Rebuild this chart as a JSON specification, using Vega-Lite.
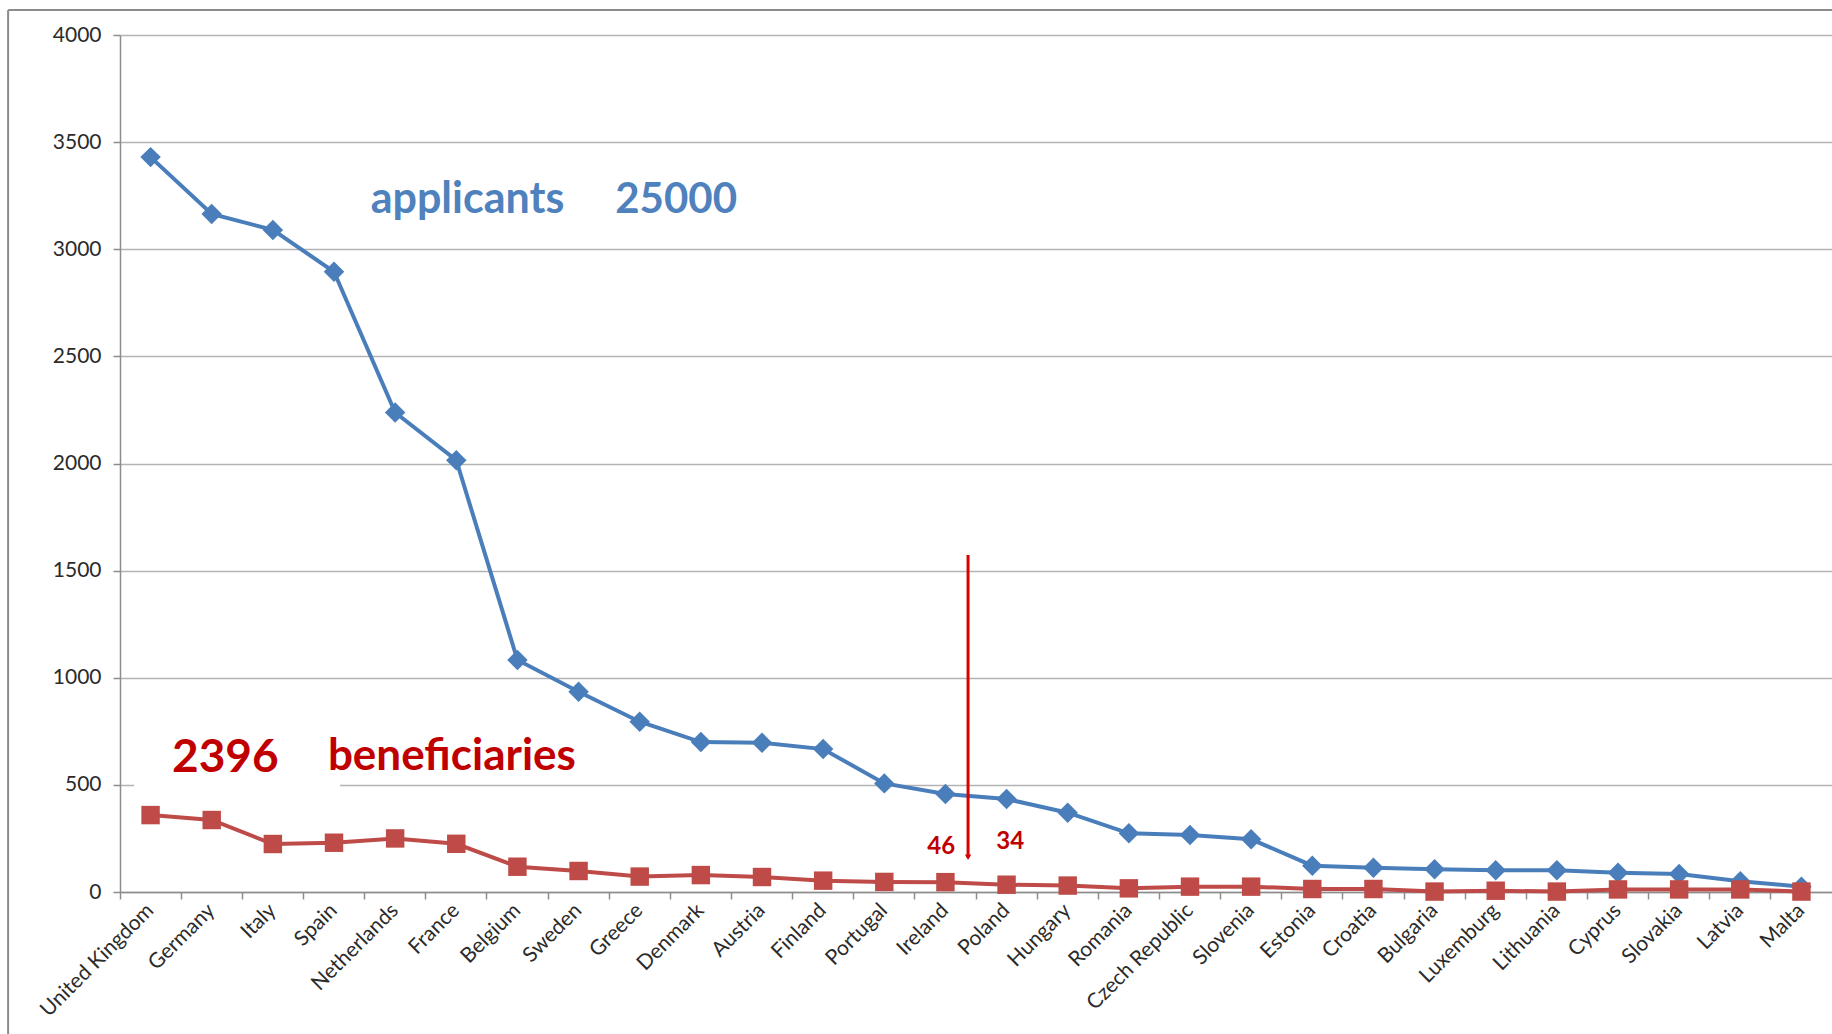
{
  "$schema": "https://vega.github.io/schema/vega-lite/v6.json",
  "width": 1712,
  "height": 857,
  "autosize": {"type": "none"},
  "padding": {"left": 120, "top": 35, "right": 0, "bottom": 142},
  "background": "white",
  "config": {"view": {"stroke": null}, "font": "Lato"},
  "datasets": {
    "main": [
      {"country": "United Kingdom", "series": "applicants", "value": 3430},
      {"country": "Germany", "series": "applicants", "value": 3165},
      {"country": "Italy", "series": "applicants", "value": 3090},
      {"country": "Spain", "series": "applicants", "value": 2895},
      {"country": "Netherlands", "series": "applicants", "value": 2238},
      {"country": "France", "series": "applicants", "value": 2015},
      {"country": "Belgium", "series": "applicants", "value": 1083},
      {"country": "Sweden", "series": "applicants", "value": 935},
      {"country": "Greece", "series": "applicants", "value": 795},
      {"country": "Denmark", "series": "applicants", "value": 700},
      {"country": "Austria", "series": "applicants", "value": 697},
      {"country": "Finland", "series": "applicants", "value": 667},
      {"country": "Portugal", "series": "applicants", "value": 507},
      {"country": "Ireland", "series": "applicants", "value": 457},
      {"country": "Poland", "series": "applicants", "value": 434},
      {"country": "Hungary", "series": "applicants", "value": 370},
      {"country": "Romania", "series": "applicants", "value": 274},
      {"country": "Czech Republic", "series": "applicants", "value": 266},
      {"country": "Slovenia", "series": "applicants", "value": 246},
      {"country": "Estonia", "series": "applicants", "value": 123},
      {"country": "Croatia", "series": "applicants", "value": 113},
      {"country": "Bulgaria", "series": "applicants", "value": 106},
      {"country": "Luxemburg", "series": "applicants", "value": 101},
      {"country": "Lithuania", "series": "applicants", "value": 101},
      {"country": "Cyprus", "series": "applicants", "value": 90},
      {"country": "Slovakia", "series": "applicants", "value": 84},
      {"country": "Latvia", "series": "applicants", "value": 50},
      {"country": "Malta", "series": "applicants", "value": 25},
      {"country": "United Kingdom", "series": "beneficiaries", "value": 359},
      {"country": "Germany", "series": "beneficiaries", "value": 336},
      {"country": "Italy", "series": "beneficiaries", "value": 224},
      {"country": "Spain", "series": "beneficiaries", "value": 230},
      {"country": "Netherlands", "series": "beneficiaries", "value": 250},
      {"country": "France", "series": "beneficiaries", "value": 225},
      {"country": "Belgium", "series": "beneficiaries", "value": 118},
      {"country": "Sweden", "series": "beneficiaries", "value": 98},
      {"country": "Greece", "series": "beneficiaries", "value": 72},
      {"country": "Denmark", "series": "beneficiaries", "value": 79},
      {"country": "Austria", "series": "beneficiaries", "value": 70},
      {"country": "Finland", "series": "beneficiaries", "value": 53},
      {"country": "Portugal", "series": "beneficiaries", "value": 47},
      {"country": "Ireland", "series": "beneficiaries", "value": 46},
      {"country": "Poland", "series": "beneficiaries", "value": 34},
      {"country": "Hungary", "series": "beneficiaries", "value": 30},
      {"country": "Romania", "series": "beneficiaries", "value": 17},
      {"country": "Czech Republic", "series": "beneficiaries", "value": 25},
      {"country": "Slovenia", "series": "beneficiaries", "value": 25},
      {"country": "Estonia", "series": "beneficiaries", "value": 14},
      {"country": "Croatia", "series": "beneficiaries", "value": 14},
      {"country": "Bulgaria", "series": "beneficiaries", "value": 2},
      {"country": "Luxemburg", "series": "beneficiaries", "value": 6},
      {"country": "Lithuania", "series": "beneficiaries", "value": 2},
      {"country": "Cyprus", "series": "beneficiaries", "value": 12},
      {"country": "Slovakia", "series": "beneficiaries", "value": 12},
      {"country": "Latvia", "series": "beneficiaries", "value": 12},
      {"country": "Malta", "series": "beneficiaries", "value": 2}
    ]
  },
  "layer": [
    {
      "data": {"name": "main"},
      "mark": {"type": "line", "strokeWidth": 4},
      "encoding": {
        "x": {
          "field": "country", "type": "nominal",
          "scale": {"type": "band", "paddingInner": 0, "paddingOuter": 0,
            "domain": ["United Kingdom","Germany","Italy","Spain","Netherlands","France","Belgium","Sweden","Greece","Denmark","Austria","Finland","Portugal","Ireland","Poland","Hungary","Romania","Czech Republic","Slovenia","Estonia","Croatia","Bulgaria","Luxemburg","Lithuania","Cyprus","Slovakia","Latvia","Malta"]},
          "axis": {
            "title": null, "labelAngle": -45, "labelAlign": "right", "labelBaseline": "middle",
            "bandPosition": 0, "tickSize": 7, "labelPadding": 8, "labelFontSize": 21,
            "labelColor": "#2b2b2b", "domainColor": "#8c8c8c", "tickColor": "#8c8c8c",
            "domainWidth": 1.5, "tickWidth": 1.5, "grid": false, "labelOverlap": false
          }
        },
        "y": {
          "field": "value", "type": "quantitative",
          "scale": {"domain": [0, 4000], "nice": false},
          "axis": {
            "title": null, "values": [0, 500, 1000, 1500, 2000, 2500, 3000, 3500, 4000],
            "format": "d",
            "tickSize": 7, "labelPadding": 12, "labelFontSize": 21, "labelColor": "#2b2b2b",
            "gridColor": "#b3b3b3", "gridWidth": 1.5, "domainColor": "#8c8c8c",
            "tickColor": "#8c8c8c", "domainWidth": 1.5, "tickWidth": 1.5
          }
        },
        "color": {
          "field": "series", "type": "nominal",
          "scale": {"domain": ["applicants", "beneficiaries"], "range": ["#4A7EBB", "#BE4B48"]},
          "legend": null
        }
      }
    },
    {
      "data": {"name": "main"},
      "mark": {"type": "point", "filled": true, "opacity": 1},
      "encoding": {
        "x": {"field": "country", "type": "nominal"},
        "y": {"field": "value", "type": "quantitative"},
        "color": {
          "field": "series", "type": "nominal",
          "scale": {"domain": ["applicants", "beneficiaries"], "range": ["#4A7EBB", "#BE4B48"]},
          "legend": null
        },
        "shape": {
          "field": "series", "type": "nominal",
          "scale": {"domain": ["applicants", "beneficiaries"], "range": ["diamond", "square"]},
          "legend": null
        },
        "size": {
          "field": "series", "type": "nominal",
          "scale": {"domain": ["applicants", "beneficiaries"], "range": [420, 340]},
          "legend": null
        }
      }
    },
    {
      "data": {"values": [{"country": "United Kingdom", "country2": "Spain", "y1": 440, "y2": 620}]},
      "mark": {"type": "rect", "fill": "white"},
      "encoding": {
        "x": {"field": "country", "type": "nominal", "bandPosition": 0.23},
        "x2": {"field": "country2", "bandPosition": 0.6},
        "y": {"field": "y1", "type": "quantitative"},
        "y2": {"field": "y2"}
      }
    },
    {
      "data": {"values": [{"country": "United Kingdom", "country2": "Malta", "top": 4117}]},
      "mark": {"type": "rule", "color": "#8c8c8c", "strokeWidth": 2},
      "encoding": {
        "x": {"field": "country", "type": "nominal", "bandPosition": -1.83},
        "x2": {"field": "country2", "bandPosition": 1},
        "y": {"field": "top", "type": "quantitative"}
      }
    },
    {
      "data": {"values": [{"country": "United Kingdom", "top": 4117, "bottom": -700}]},
      "mark": {"type": "rule", "color": "#8c8c8c", "strokeWidth": 2},
      "encoding": {
        "x": {"field": "country", "type": "nominal", "bandPosition": -1.83},
        "y": {"field": "top", "type": "quantitative"},
        "y2": {"field": "bottom"}
      }
    },
    {
      "data": {"values": [{"country": "Netherlands", "value": 3169, "label": "applicants"}]},
      "mark": {"type": "text", "align": "left", "baseline": "alphabetic", "fontSize": 43, "fontWeight": "bold", "color": "#4F81BD"},
      "encoding": {
        "x": {"field": "country", "type": "nominal", "bandPosition": 0.1},
        "y": {"field": "value", "type": "quantitative"},
        "text": {"field": "label"}
      }
    },
    {
      "data": {"values": [{"country": "Greece", "value": 3169, "label": "25000"}]},
      "mark": {"type": "text", "align": "left", "baseline": "alphabetic", "fontSize": 42, "fontWeight": "bold", "color": "#4F81BD"},
      "encoding": {
        "x": {"field": "country", "type": "nominal", "bandPosition": 0.1},
        "y": {"field": "value", "type": "quantitative"},
        "text": {"field": "label"}
      }
    },
    {
      "data": {"values": [{"country": "United Kingdom", "value": 561, "label": "2396"}]},
      "mark": {"type": "text", "align": "left", "baseline": "alphabetic", "fontSize": 46, "fontWeight": "bold", "color": "#C00000"},
      "encoding": {
        "x": {"field": "country", "type": "nominal", "bandPosition": 0.85},
        "y": {"field": "value", "type": "quantitative"},
        "text": {"field": "label"}
      }
    },
    {
      "data": {"values": [{"country": "Spain", "value": 569, "label": "beneficiaries"}]},
      "mark": {"type": "text", "align": "left", "baseline": "alphabetic", "fontSize": 44, "fontWeight": "bold", "color": "#C00000"},
      "encoding": {
        "x": {"field": "country", "type": "nominal", "bandPosition": 0.4},
        "y": {"field": "value", "type": "quantitative"},
        "text": {"field": "label"}
      }
    },
    {
      "data": {"values": [{"country": "Ireland", "value": 210, "label": "46"}]},
      "mark": {"type": "text", "align": "center", "baseline": "middle", "fontSize": 24, "fontWeight": "bold", "color": "#C00000"},
      "encoding": {
        "x": {"field": "country", "type": "nominal", "bandPosition": 0.43},
        "y": {"field": "value", "type": "quantitative"},
        "text": {"field": "label"}
      }
    },
    {
      "data": {"values": [{"country": "Poland", "value": 233, "label": "34"}]},
      "mark": {"type": "text", "align": "center", "baseline": "middle", "fontSize": 24, "fontWeight": "bold", "color": "#C00000"},
      "encoding": {
        "x": {"field": "country", "type": "nominal", "bandPosition": 0.56},
        "y": {"field": "value", "type": "quantitative"},
        "text": {"field": "label"}
      }
    },
    {
      "data": {"values": [{"country": "Ireland", "top": 1573, "bottom": 160}]},
      "mark": {"type": "rule", "color": "#D80000", "strokeWidth": 3},
      "encoding": {
        "x": {"field": "country", "type": "nominal", "bandPosition": 0.87},
        "y": {"field": "top", "type": "quantitative"},
        "y2": {"field": "bottom"}
      }
    },
    {
      "data": {"values": [{"country": "Ireland", "tip": 162}]},
      "mark": {"type": "point", "shape": "triangle-down", "filled": true, "color": "#D80000", "size": 40, "opacity": 1},
      "encoding": {
        "x": {"field": "country", "type": "nominal", "bandPosition": 0.87},
        "y": {"field": "tip", "type": "quantitative"}
      }
    }
  ]
}
